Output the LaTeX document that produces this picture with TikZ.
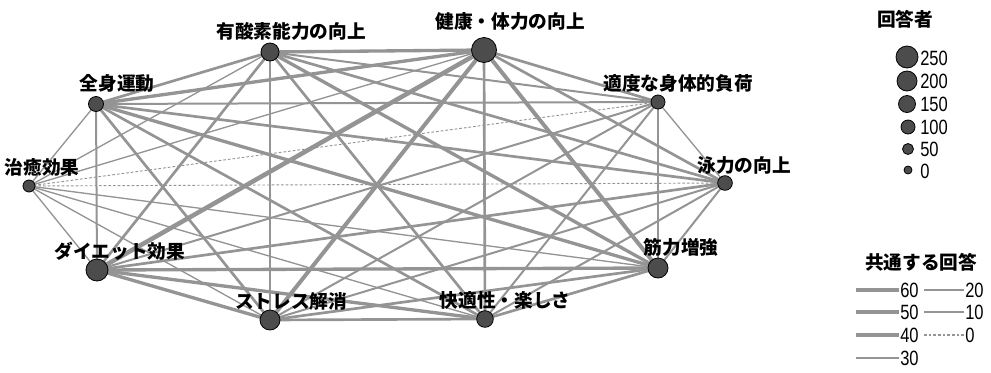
\documentclass[tikz,border=0pt]{standalone}
\usepackage{fontspec}
\usetikzlibrary{backgrounds}
\newfontfamily\jp{Noto Sans CJK JP}
\newfontfamily\numf[FakeStretch=0.8]{Liberation Sans}
\definecolor{edgegray}{gray}{0.58}
\definecolor{nodegray}{gray}{0.3}
\begin{document}
\begin{tikzpicture}[x=0.75pt,y=-0.75pt,
  vtx/.style={circle,draw=black,line width=0.6pt,fill=nodegray,inner sep=0pt,minimum size=#1},
  lab/.style={font=\jp\bfseries\fontsize{14}{14}\selectfont,inner sep=0pt},
  num/.style={font=\numf\fontsize{15.5}{15.5}\selectfont,inner sep=0pt,anchor=west},
  w60/.style={draw=edgegray,line width=3.4pt},
  w50/.style={draw=edgegray,line width=3.0pt},
  w40/.style={draw=edgegray,line width=2.5pt},
  w30/.style={draw=edgegray,line width=2.0pt},
  w20/.style={draw=edgegray,line width=1.5pt},
  w10/.style={draw=edgegray,line width=1.0pt},
  w0/.style={draw=edgegray,line width=0.7pt,dash pattern=on 2pt off 1.5pt},
  lg60/.style={draw=edgegray,line width=3.6pt},
  lg50/.style={draw=edgegray,line width=3.2pt},
  lg40/.style={draw=edgegray,line width=2.8pt},
  lg30/.style={draw=edgegray,line width=2.2pt},
  lg20/.style={draw=edgegray,line width=1.7pt},
  lg10/.style={draw=edgegray,line width=1.2pt},
  lg0/.style={draw=edgegray,line width=0.9pt,dash pattern=on 2pt off 1.5pt}]
\useasboundingbox (0,0) rectangle (991,372);

% vertices
\node[vtx=13.5pt]  (A) at (270,52)  {};
\node[vtx=18.75pt] (B) at (484,50)  {};
\node[vtx=10.5pt]  (C) at (658,102) {};
\node[vtx=11pt]    (D) at (725,183) {};
\node[vtx=15pt]    (E) at (658,268) {};
\node[vtx=12.5pt]  (F) at (485,319) {};
\node[vtx=15pt]    (G) at (270,320) {};
\node[vtx=16.5pt]  (H) at (97,270)  {};
\node[vtx=9pt]     (I) at (29,186)  {};
\node[vtx=11.25pt] (J) at (96,104)  {};

% labels
\node[lab] (lA) at (291,31)  {有酸素能力の向上};
\node[lab] (lB) at (510,21)  {健康・体力の向上};
\node[lab] (lC) at (678,83)  {適度な身体的負荷};
\node[lab] (lD) at (744,165) {泳力の向上};
\node[lab] (lE) at (681,247) {筋力増強};
\node[lab] (lF) at (505,300) {快適性・楽しさ};
\node[lab] (lG) at (291,301) {ストレス解消};
\node[lab] (lH) at (120,251) {ダイエット効果};
\node[lab] (lI) at (42,167)  {治癒効果};
\node[lab] (lJ) at (117,83)  {全身運動};

% edges
\begin{scope}[on background layer]
\foreach \a/\b/\w in {
  B/A/40, B/J/40, B/I/10, B/H/60, B/G/50, B/F/30, B/E/50, B/D/30, B/C/30,
  A/J/30, A/I/10, A/H/30, A/G/20, A/F/30, A/E/40, A/D/30, A/C/20,
  J/I/10, J/H/20, J/G/30, J/F/30, J/E/40, J/D/30, J/C/20,
  I/H/10, I/G/10, I/F/10, I/E/10, I/D/0, I/C/0,
  H/G/40, H/F/40, H/E/40, H/D/30, H/C/20,
  G/F/30, G/E/30, G/D/20, G/C/20,
  F/E/30, F/D/20, F/C/20,
  E/D/20, E/C/20,
  D/C/10}
  \draw[w\w] (\a.center) -- (\b.center);
\end{scope}

% legend: respondents
\node[lab] (t1) at (905,19) {回答者};
\node[vtx=16.5pt]  (s250) at (907,57)  {};
\node[vtx=15pt]    (s200) at (907,81)  {};
\node[vtx=12.75pt] (s150) at (907,104) {};
\node[vtx=10.5pt]  (s100) at (908,127) {};
\node[vtx=8.25pt]  (s50)  at (908,149) {};
\node[vtx=6pt]     (s0)   at (908,170) {};
\node[num] (n250) at (920,58)  {250};
\node[num] (n200) at (920,81)  {200};
\node[num] (n150) at (920,104) {150};
\node[num] (n100) at (920,127) {100};
\node[num] (n50)  at (920,149) {50};
\node[num] (n0)   at (920,171) {0};

% legend: common answers
\node[lab] (t2) at (921,262) {共通する回答};
\coordinate (a60) at (856,290); \coordinate (b60) at (899,290);
\coordinate (a50) at (856,312); \coordinate (b50) at (899,312);
\coordinate (a40) at (856,335); \coordinate (b40) at (899,335);
\coordinate (a30) at (856,358); \coordinate (b30) at (899,358);
\coordinate (a20) at (924,290); \coordinate (b20) at (964,290);
\coordinate (a10) at (924,312); \coordinate (b10) at (964,312);
\coordinate (a0)  at (924,335); \coordinate (b0)  at (964,335);
\draw[lg60] (a60) -- (b60);
\draw[lg50] (a50) -- (b50);
\draw[lg40] (a40) -- (b40);
\draw[lg30] (a30) -- (b30);
\draw[lg20] (a20) -- (b20);
\draw[lg10] (a10) -- (b10);
\draw[lg0]  (a0)  -- (b0);
\node[num] (m60) at (900,290) {60};
\node[num] (m50) at (900,312) {50};
\node[num] (m40) at (900,335) {40};
\node[num] (m30) at (900,358) {30};
\node[num] (m20) at (965,290) {20};
\node[num] (m10) at (965,312) {10};
\node[num] (m0)  at (965,335) {0};
\end{tikzpicture}
\end{document}
